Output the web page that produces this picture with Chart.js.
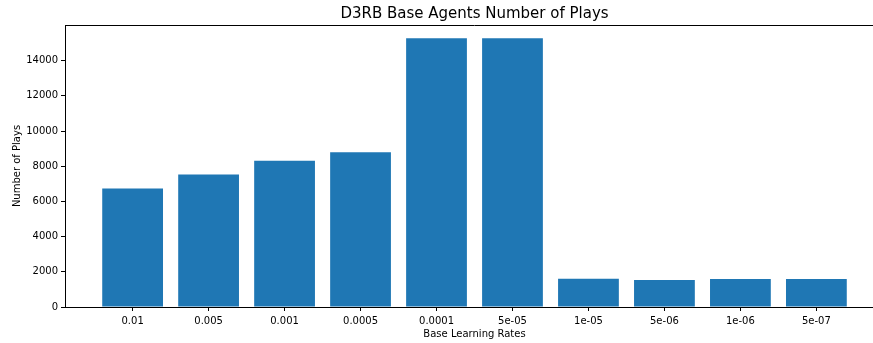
<!DOCTYPE html>
<html>
<head>
<meta charset="utf-8">
<script src="https://cdn.jsdelivr.net/npm/chart.js@4/dist/chart.umd.min.js"></script>
<style>
  html, body { margin: 0; padding: 0; background: #fff; overflow: hidden; }
  #wrap { width: 900px; height: 343px; }
</style>
</head>
<body>
<div id="wrap"><canvas id="playsChart" width="900" height="343"></canvas></div>
<script>
// learning rates of the base agents, in plot order
const rateLabels = ['0.01', '0.005', '0.001', '0.0005', '0.0001', '5e-05', '1e-05', '5e-06', '1e-06', '5e-07'];
// number of plays per learning rate
const playCounts = [6730, 7530, 8310, 8800, 15270, 15270, 1610, 1530, 1590, 1590];
// y tick values
const yTicks = [0, 2000, 4000, 6000, 8000, 10000, 12000, 14000];

const FONT = '"DejaVu Sans", sans-serif';

// title centred over the plot area + top/right spines
const framePlugin = {
  id: 'frame',
  afterDraw(chart) {
    const { ctx, chartArea } = chart;
    ctx.save();
    ctx.strokeStyle = '#000';
    ctx.lineWidth = 1;
    ctx.beginPath();
    ctx.moveTo(chartArea.left, chartArea.top + 0.5);
    ctx.lineTo(chartArea.right, chartArea.top + 0.5);
    ctx.moveTo(chartArea.right - 0.5, chartArea.top);
    ctx.lineTo(chartArea.right - 0.5, chartArea.bottom);
    ctx.stroke();
    ctx.fillStyle = '#000';
    ctx.font = '15px ' + FONT;
    ctx.textAlign = 'center';
    ctx.textBaseline = 'middle';
    ctx.fillText('D3RB Base Agents Number of Plays', (chartArea.left + chartArea.right) / 2, 14);
    ctx.restore();
  }
};

new Chart(document.getElementById('playsChart'), {
  type: 'bar',
  data: {
    datasets: [{
      data: playCounts.map((v, i) => ({ x: i, y: v })),
      backgroundColor: '#1f77b4',
      borderWidth: 0,
      barPercentage: 0.8,
      categoryPercentage: 1.0
    }]
  },
  options: {
    responsive: false,
    animation: false,
    devicePixelRatio: 1,
    layout: { padding: { top: 25, right: 16, bottom: 0, left: 0 } },
    plugins: {
      legend: { display: false },
      tooltip: { enabled: false },
      title: { display: false }
    },
    scales: {
      x: {
        type: 'linear',
        min: -0.89,
        max: 9.89,
        offset: false,
        afterBuildTicks: (scale) => { scale.ticks = rateLabels.map((_, i) => ({ value: i })); },
        afterFit: (scale) => { scale.height = 36; },
        ticks: {
          autoSkip: false,
          maxRotation: 0,
          padding: 4,
          color: '#000',
          font: { family: FONT, size: 10 },
          callback: (v) => rateLabels[v]
        },
        grid: { drawOnChartArea: false, offset: false, tickLength: 4, color: '#000' },
        border: { color: '#000', width: 1 },
        title: {
          display: true,
          text: 'Base Learning Rates',
          color: '#000',
          font: { family: FONT, size: 10 },
          padding: { top: 3, bottom: 3 }
        }
      },
      y: {
        min: 0,
        max: 16030,
        afterBuildTicks: (scale) => { scale.ticks = yTicks.map(v => ({ value: v })); },
        afterFit: (scale) => { scale.width = 65; },
        ticks: {
          padding: 3,
          color: '#000',
          font: { family: FONT, size: 10 },
          callback: (v) => String(v)
        },
        grid: { drawOnChartArea: false, tickLength: 4, color: '#000' },
        border: { color: '#000', width: 1 },
        title: {
          display: true,
          text: 'Number of Plays',
          color: '#000',
          font: { family: FONT, size: 10 },
          padding: { top: 11, bottom: 0 }
        }
      }
    }
  },
  plugins: [framePlugin]
});
</script>
</body>
</html>
